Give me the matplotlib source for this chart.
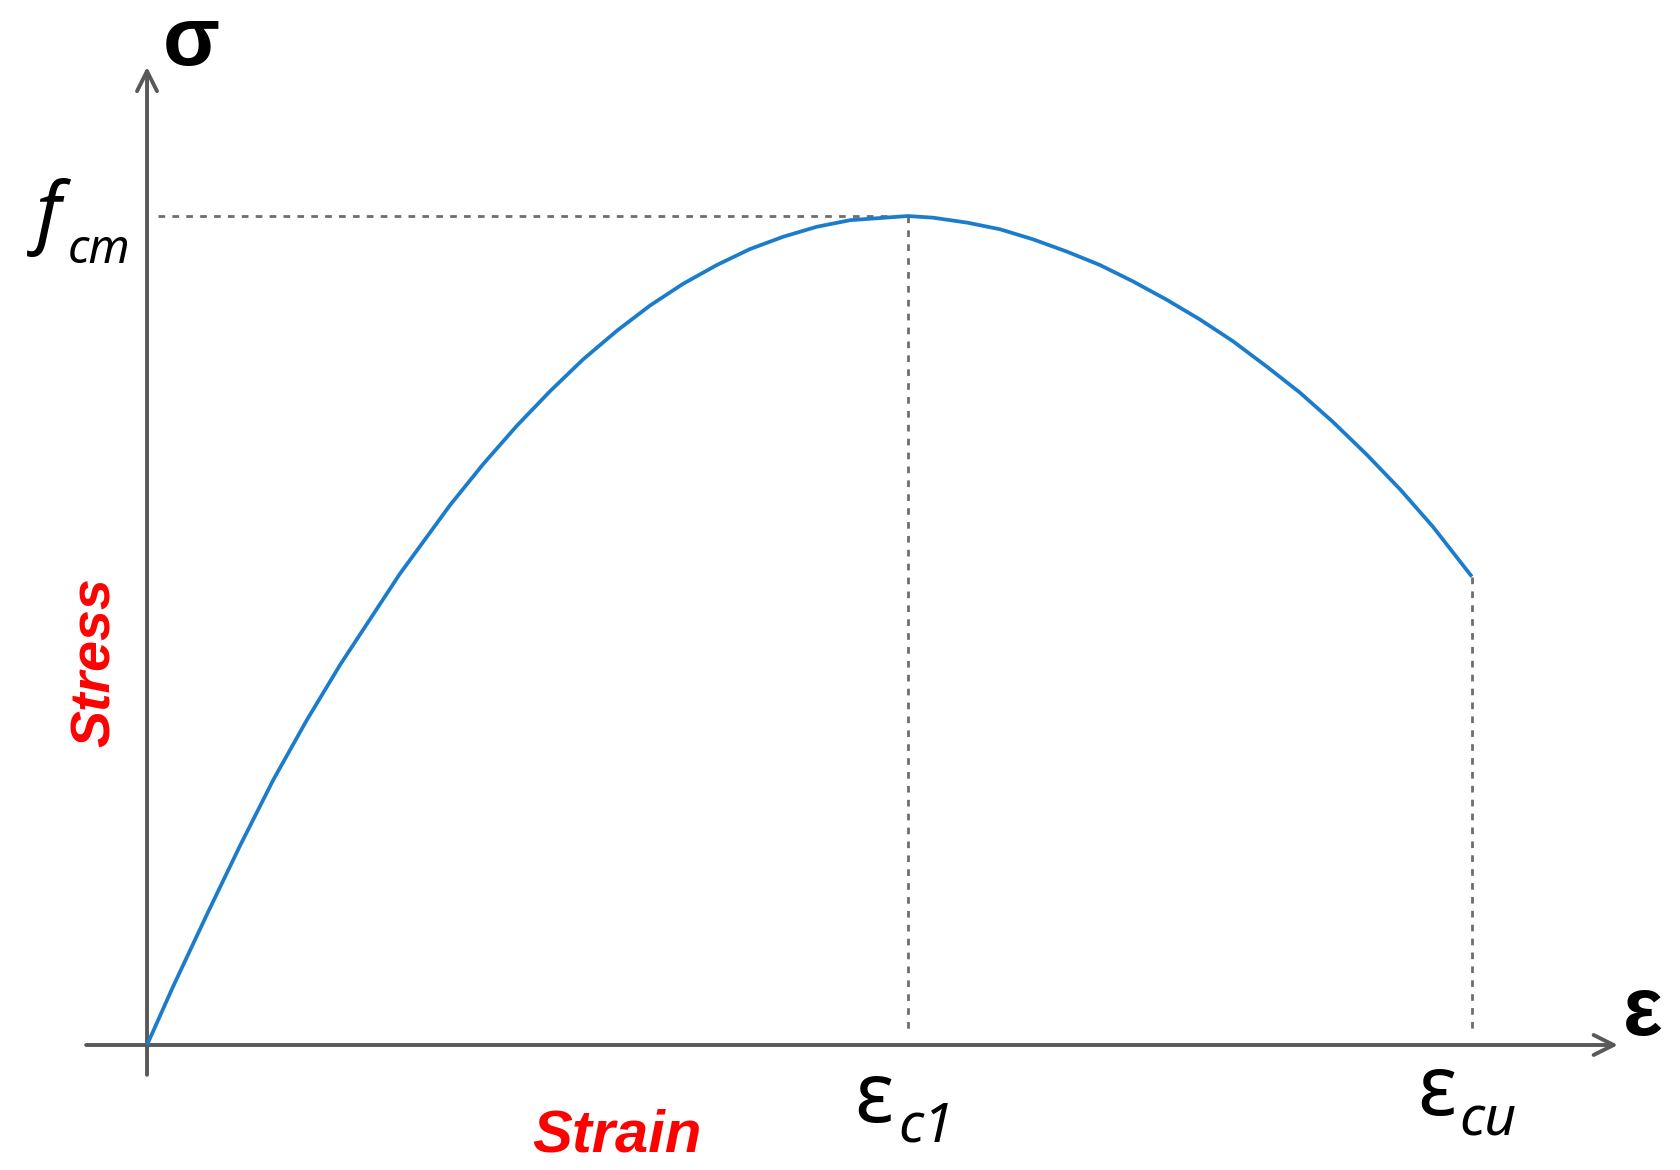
import numpy as np
import matplotlib
matplotlib.use('Agg')
import matplotlib.pyplot as plt

plt.rcParams['font.family'] = ['Noto Sans', 'DejaVu Sans']
BOLD_FAMILY = ['Liberation Sans', 'DejaVu Sans']

# curve, strain in units of eps_c1, stress in units of f_cm
strain = [0.0, 0.034, 0.079, 0.122, 0.166, 0.210, 0.254, 0.332, 0.398, 0.442,
          0.486, 0.530, 0.573, 0.618, 0.661, 0.704, 0.749, 0.792, 0.836, 0.880,
          0.924, 1.000, 1.033, 1.078, 1.121, 1.164, 1.209, 1.252, 1.296, 1.340,
          1.384, 1.427, 1.472, 1.515, 1.558, 1.603, 1.647, 1.690, 1.741]
stress = [0.0, 0.070, 0.158, 0.240, 0.320, 0.392, 0.459, 0.568, 0.651, 0.701,
          0.747, 0.789, 0.827, 0.862, 0.892, 0.918, 0.941, 0.960, 0.975, 0.987,
          0.995, 1.000, 0.998, 0.992, 0.984, 0.972, 0.957, 0.941, 0.921, 0.899,
          0.875, 0.849, 0.818, 0.787, 0.752, 0.712, 0.670, 0.625, 0.565]

eps_c1 = strain[int(np.argmax(stress))]
f_cm = max(stress)
eps_cu = strain[-1]
sig_cu = stress[-1]

axis_col = '#595959'
dash_col = '#6e6e6e'
curve_col = '#1b7ccb'

fig = plt.figure(figsize=(16.8, 11.7), dpi=100)
ax = fig.add_axes([0, 0, 1, 1])
ax.set_xlim(-0.1932, 2.0145)
ax.set_ylim(-0.1508, 1.2606)
ax.axis('off')

# axes with arrow heads
arrow = dict(arrowstyle='->', lw=2.8, color=axis_col, shrinkA=0, shrinkB=0,
             mutation_scale=36)
ax.annotate('', xy=(1.933, 0), xytext=(-0.080, 0), arrowprops=arrow)
ax.annotate('', xy=(0, 1.180), xytext=(0, -0.036), arrowprops=arrow)

# guide lines
dash_kw = dict(color=dash_col, lw=2.0, dashes=(2.4, 2.6))
ax.plot([0.0145, eps_c1], [f_cm, f_cm], **dash_kw)
ax.plot([eps_c1, eps_c1], [f_cm, 0.013], **dash_kw)
ax.plot([eps_cu, eps_cu], [sig_cu, 0.013], **dash_kw)

ax.plot(strain, stress, color=curve_col, lw=2.7, solid_joinstyle='round',
        solid_capstyle='butt', zorder=3)

# axis symbols
ax.text(0.058, 1.182, 'σ', fontsize=60, fontweight='bold', family=BOLD_FAMILY,
        ha='center', va='baseline')
ax.text(1.94, 0.012, 'ε', fontsize=60, fontweight='bold', family=BOLD_FAMILY,
        ha='left', va='baseline')

# f_cm
ax.text(-0.146, 0.9735, 'f', fontsize=57, style='italic', ha='left', va='baseline')
ax.text(-0.1038, 0.943, 'cm', fontsize=34, style='italic', ha='left', va='baseline')

# strain labels
ax.text(0.930, -0.0929, 'ε', fontsize=60, ha='left', va='baseline')
ax.text(0.987, -0.117, 'c1', fontsize=40, style='italic', ha='left', va='baseline')
ax.text(1.669, -0.0844, 'ε', fontsize=60, ha='left', va='baseline')
ax.text(1.725, -0.1086, 'cu', fontsize=40, style='italic', ha='left', va='baseline')

# red axis names
ax.text(0.618, -0.128, 'Strain', fontsize=43, color='red', fontweight='bold',
        style='italic', family=BOLD_FAMILY, ha='center', va='baseline')
ax.text(-0.067, 0.462, 'Stress', fontsize=40, color='red', fontweight='bold',
        style='italic', family=BOLD_FAMILY, ha='center', va='center', rotation=90)

fig.savefig('out.png', dpi=100)
